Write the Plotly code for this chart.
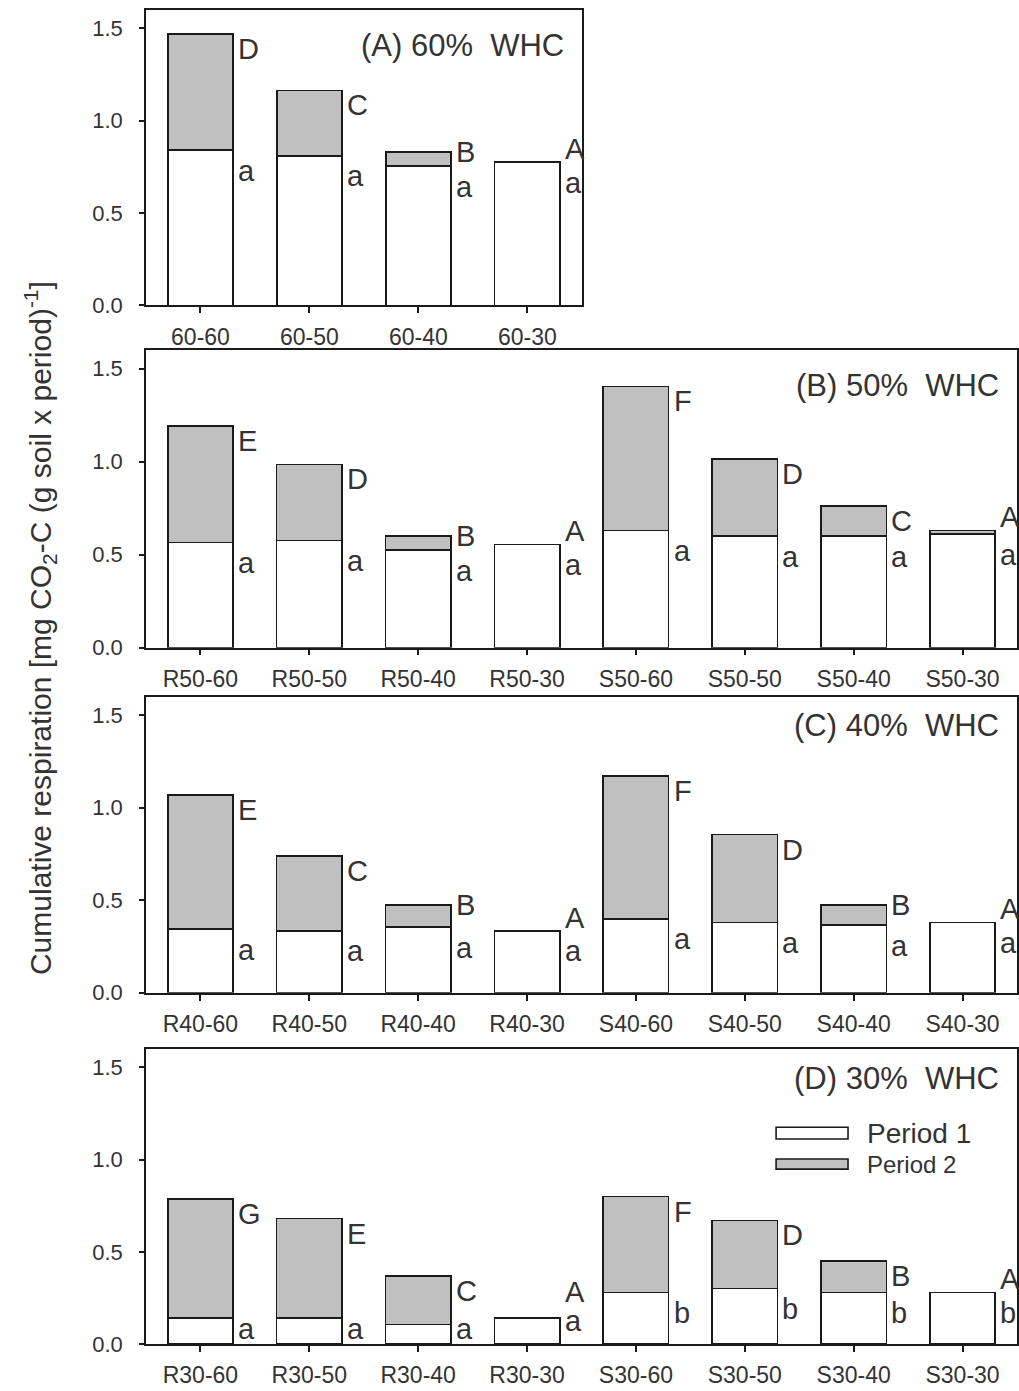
import plotly.graph_objects as go

# ---------------- data ----------------
cats_A = ["60-60", "60-50", "60-40", "60-30"]
p1_A = [0.84, 0.81, 0.755, 0.775]
p2_A = [0.63, 0.355, 0.075, 0.0]
up_A = ["D", "C", "B", "A"]
lo_A = ["a", "a", "a", "a"]

cats_B = ["R50-60", "R50-50", "R50-40", "R50-30", "S50-60", "S50-50", "S50-40", "S50-30"]
p1_B = [0.565, 0.575, 0.525, 0.555, 0.63, 0.60, 0.60, 0.61]
p2_B = [0.625, 0.41, 0.075, 0.0, 0.775, 0.415, 0.16, 0.02]
up_B = ["E", "D", "B", "A", "F", "D", "C", "A"]
lo_B = ["a", "a", "a", "a", "a", "a", "a", "a"]

cats_C = ["R40-60", "R40-50", "R40-40", "R40-30", "S40-60", "S40-50", "S40-40", "S40-30"]
p1_C = [0.345, 0.335, 0.355, 0.335, 0.40, 0.38, 0.365, 0.38]
p2_C = [0.725, 0.405, 0.12, 0.0, 0.77, 0.475, 0.11, 0.0]
up_C = ["E", "C", "B", "A", "F", "D", "B", "A"]
lo_C = ["a", "a", "a", "a", "a", "a", "a", "a"]

cats_D = ["R30-60", "R30-50", "R30-40", "R30-30", "S30-60", "S30-50", "S30-40", "S30-30"]
p1_D = [0.14, 0.14, 0.105, 0.14, 0.28, 0.30, 0.28, 0.28]
p2_D = [0.645, 0.54, 0.265, 0.0, 0.52, 0.37, 0.17, 0.0]
up_D = ["G", "E", "C", "A", "F", "D", "B", "A"]
lo_D = ["a", "a", "a", "a", "b", "b", "b", "b"]

panel_titles = ["(A) 60%  WHC", "(B) 50%  WHC", "(C) 40%  WHC", "(D) 30%  WHC"]
y_ticks = [0, 0.5, 1.0, 1.5]
y_tick_text = ["0.0", "0.5", "1.0", "1.5"]
legend_names = ["Period 1", "Period 2"]

# ---------------- style ----------------
FONT = "Liberation Sans, Arial, sans-serif"
TXT = "#333333"
LINE = "#1a1a1a"
GREY = "#c0c0c0"
BAR_W = 0.6

panels = [
    (cats_A, p1_A, p2_A, up_A, lo_A),
    (cats_B, p1_B, p2_B, up_B, lo_B),
    (cats_C, p1_C, p2_C, up_C, lo_C),
    (cats_D, p1_D, p2_D, up_D, lo_D),
]

x_domains = [[0, 0.5004], [0, 1], [0, 1], [0, 1]]
y_domains = [[0.7786, 1.0], [0.5220, 0.7451], [0.2633, 0.4852], [0.0, 0.2211]]
title_shift = [-35, -35, -29, -29]

fig = go.Figure()
annotations = []

for k, (cats, p1, p2, up, lo) in enumerate(panels):
    sfx = "" if k == 0 else str(k + 1)
    xa, ya = "x" + sfx, "y" + sfx
    p2_plot = [v if v > 0 else None for v in p2]
    fig.add_trace(go.Bar(
        x=cats, y=p1, name=legend_names[0], xaxis=xa, yaxis=ya, width=BAR_W,
        marker=dict(color="white", line=dict(color=LINE, width=1.6)),
        showlegend=False, hoverinfo="skip"))
    fig.add_trace(go.Bar(
        x=cats, y=p2_plot, name=legend_names[1], xaxis=xa, yaxis=ya, width=BAR_W,
        marker=dict(color=GREY, line=dict(color=LINE, width=1.6)),
        showlegend=False, hoverinfo="skip"))

    for i in range(len(cats)):
        total = p1[i] + p2[i]
        lc = p1[i] - 0.095
        if lc < 0.1:
            lc = 0.1 if p2[i] > 0 else p1[i]
        if p2[i] >= 0.15:
            anc, ysh, uy = "top", 3, total
        elif p2[i] >= 0.05:
            anc, ysh, uy = "middle", 0, total
        else:
            anc, ysh, uy = "bottom", -5, max(total, lc + 0.07)
        annotations.append(dict(
            x=i + BAR_W / 2, y=uy, xref=xa, yref=ya, text=up[i],
            showarrow=False, xanchor="left", yanchor=anc, xshift=3, yshift=ysh,
            font=dict(family=FONT, size=29, color=TXT)))
        annotations.append(dict(
            x=i + BAR_W / 2, y=lc, xref=xa, yref=ya, text=lo[i],
            showarrow=False, xanchor="left", yanchor="middle", xshift=3, yshift=-3,
            font=dict(family=FONT, size=29, color=TXT)))

    annotations.append(dict(
        x=1, y=1, xref=xa + " domain", yref=ya + " domain",
        text=panel_titles[k], showarrow=False, xanchor="right", yanchor="middle",
        xshift=-16, yshift=title_shift[k],
        font=dict(family=FONT, size=31, color=TXT)))

    axis_common = dict(showline=True, mirror=True, linecolor=LINE, linewidth=1.6,
                       ticks="outside", tickcolor=LINE, showgrid=False, zeroline=False)
    fig.layout["xaxis" + sfx] = dict(
        domain=x_domains[k], anchor=ya, range=[-0.5, len(cats) - 0.5],
        type="category", ticklen=6, tickwidth=1.5,
        tickfont=dict(family=FONT, size=23, color=TXT), ticklabelstandoff=4,
        **axis_common)
    fig.layout["yaxis" + sfx] = dict(
        domain=y_domains[k], anchor=xa, range=[0, 1.6],
        tickvals=y_ticks, ticktext=y_tick_text, ticklen=5, tickwidth=1.5,
        tickfont=dict(family=FONT, size=22, color=TXT), ticklabelstandoff=12,
        **axis_common)

# y-axis title
annotations.append(dict(
    x=-0.1217, y=0.5367, xref="paper", yref="paper", textangle=-90,
    text="Cumulative respiration [mg CO<sub>2</sub>-C (g soil x period)<sup>-1</sup>]",
    showarrow=False, xanchor="center", yanchor="middle",
    font=dict(family=FONT, size=30, color=TXT)))

# legend (drawn in panel D)
shapes = [
    dict(type="rect", xref="x4 domain", yref="y4 domain", x0=0.7234, x1=0.806,
         y0=0.695, y1=0.735, fillcolor="white", line=dict(color=LINE, width=1.6)),
    dict(type="rect", xref="x4 domain", yref="y4 domain", x0=0.7234, x1=0.806,
         y0=0.593, y1=0.627, fillcolor=GREY, line=dict(color=LINE, width=1.6)),
]
annotations.append(dict(x=0.8256, y=0.715, xref="x4 domain", yref="y4 domain",
                        text=legend_names[0], showarrow=False, xanchor="left",
                        yanchor="middle", font=dict(family=FONT, size=28, color=TXT)))
annotations.append(dict(x=0.8256, y=0.61, xref="x4 domain", yref="y4 domain",
                        text=legend_names[1], showarrow=False, xanchor="left",
                        yanchor="middle", font=dict(family=FONT, size=24, color=TXT)))

fig.update_layout(
    width=1019, height=1391, barmode="stack",
    margin=dict(l=146, r=2, t=10, b=47, autoexpand=False),
    paper_bgcolor="white", plot_bgcolor="white",
    annotations=annotations, shapes=shapes, showlegend=False,
    font=dict(family=FONT, color=TXT))

# remove the page's default body margin so the figure fills the window exactly
fig.write_html(
    "out.html",
    config={"displayModeBar": False},
    post_script="document.body.style.margin='0';document.body.style.overflow='hidden';")
